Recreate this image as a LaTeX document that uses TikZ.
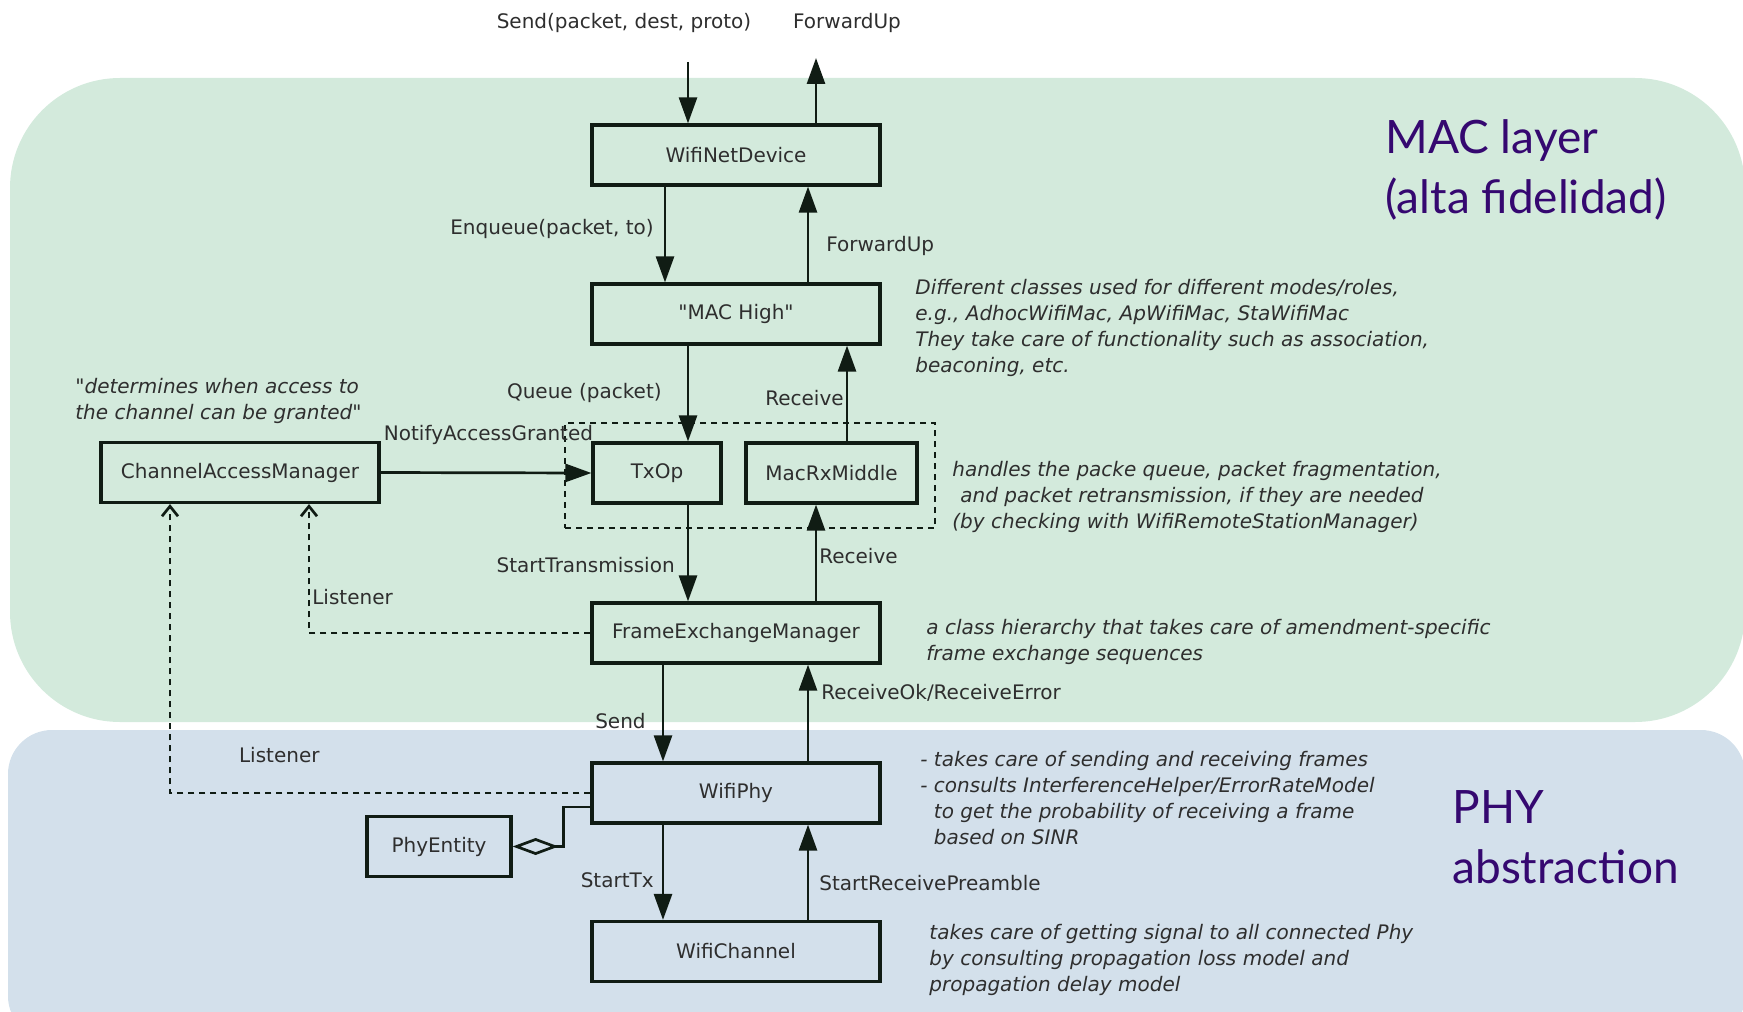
\documentclass[tikz,border=0pt]{standalone}
\usepackage{fontspec}
\setmainfont{DejaVu Sans}
\newfontfamily\titlefont{Lato}
\usetikzlibrary{positioning,arrows.meta}
\definecolor{MacGreen}{HTML}{D3EADC}
\definecolor{PhyBlue}{HTML}{D3E0EB}
\definecolor{LayerPurple}{HTML}{350870}
\definecolor{InkDark}{HTML}{101C14}
\definecolor{TextGray}{HTML}{2E2E2E}

\begin{document}
\begin{tikzpicture}[
        x=0.5pt, y=-0.5pt,
        box/.style={rectangle, draw=InkDark, line width=1.6pt, minimum width=144pt, minimum height=30pt, inner sep=0pt, text=TextGray, font=\fontsize{10}{12}\selectfont},
        flow/.style={draw=InkDark, line width=1.35pt, -{Triangle[length=13pt,width=9pt]}},
        listen/.style={draw=InkDark, line width=1.35pt, dash pattern=on 3pt off 2.5pt, -{Straight Barb[length=5pt,width=8pt]}},
        lbl/.style={text=TextGray, inner sep=1pt, font=\fontsize{10}{12}\selectfont},
        note/.style={text=TextGray, anchor=north west, align=left, inner sep=1pt, font=\fontsize{10}{13}\selectfont\itshape},
        layer/.style={text=LayerPurple, anchor=north west, align=left, inner sep=0pt, font=\titlefont\fontsize{23}{30}\selectfont}
    ]
        \useasboundingbox (0,0) rectangle (1743,1011);
        % the two layers
        \fill[MacGreen, rounded corners=55pt] (10,78) rectangle (1745,722);
        \fill[PhyBlue, rounded corners=22pt] (8,730) rectangle (1745,1040);
        \node[layer] (maclbl) at (1385,119) {MAC layer\\(alta fidelidad)};
        \node[layer] (phylbl) at (1452,790) {PHY\\abstraction};

        \node[box] (dev) at (736,155) {WifiNetDevice};
        \node[box] (mach) at (736,314) {\textquotedbl MAC High\textquotedbl};
        \node[box, minimum width=64pt] (txop) at (657,473) {TxOp};
        \node[box, minimum width=85.5pt] (rx) at (831.5,473) {MacRxMiddle};
        \node[box, minimum width=139pt] (cam) at (240,472.5) {ChannelAccessManager};
        \node[box] (fem) at (736,633) {FrameExchangeManager};
        \node[box] (phy) at (736,793) {WifiPhy};
        \node[box, minimum width=72pt] (pe) at (439,846.5) {PhyEntity};
        \node[box] (chan) at (736,951.5) {WifiChannel};
        \node[draw=InkDark, line width=1.35pt, dash pattern=on 3pt off 2.5pt, minimum width=185pt, minimum height=52.5pt] (mid) at (750,475.5) {};

        % upper interface
        \coordinate (sendin) at (688,62);
        \coordinate (fwdout) at (816,58);
        \node[lbl] (sendlbl) at (624,23) {Send(packet, dest, proto)};
        \node[lbl] (fwdlbl) at (847,23) {ForwardUp};
        \draw[flow] (sendin) -- (sendin |- dev.north);
        \draw[flow] (dev.north -| fwdout) -- (fwdout);

        \draw[flow] ([xshift=-35.5pt]dev.south) -- node[lbl, left=4pt, pos=0.44] {Enqueue(packet, to)} ([xshift=-35.5pt]mach.north);
        \draw[flow] ([xshift=36pt]mach.north) -- node[lbl, right=7.5pt, pos=0.38] {ForwardUp} ([xshift=36pt]dev.south);
        \draw[flow] ([xshift=-24pt]mach.south) -- node[lbl, left=11.5pt, pos=0.49] {Queue (packet)} ([xshift=15.5pt]txop.north);
        \draw[flow] ([xshift=7.75pt]rx.north) -- node[lbl, left=0pt, pos=0.45] {Receive} ([xshift=55.5pt]mach.south);
        \draw[flow] (cam.east) -- node[lbl, anchor=west, pos=0, yshift=19pt] {NotifyAccessGranted} (txop.west);
        \draw[flow] ([xshift=15.5pt]txop.south) -- node[lbl, left=5pt, pos=0.62] {StartTransmission} ([xshift=-24pt]fem.north);
        \draw[flow] ([xshift=40pt]fem.north) -- node[lbl, right=0pt, pos=0.47] {Receive} ([xshift=-7.75pt]rx.south);
        \draw[listen] (fem.west) -| node[lbl, anchor=west, pos=0.64] {Listener} ([xshift=34.5pt]cam.south);
        \draw[listen] (phy.west) -| node[lbl, pos=0.37, yshift=19pt] {Listener} ([xshift=-35pt]cam.south);
        \draw[flow] ([xshift=-36.5pt]fem.south) -- node[lbl, left=7pt, pos=0.58] {Send} ([xshift=-36.5pt]phy.north);
        \draw[flow] ([xshift=36pt]phy.north) -- node[lbl, right=5pt, pos=0.71] {ReceiveOk/ReceiveError} ([xshift=36pt]fem.south);
        \draw[flow] ([xshift=-36.5pt]phy.south) -- node[lbl, left=3pt, pos=0.58] {StartTx} ([xshift=-36.5pt]chan.north);
        \draw[flow] ([xshift=36pt]chan.north) -- node[lbl, right=4pt, pos=0.39] {StartReceivePreamble} ([xshift=36pt]phy.south);
        \draw[draw=InkDark, line width=1.35pt, {Diamond[open,length=23pt,width=8.5pt]}-] (pe.east) -- ++(51,0) |- ([yshift=-7pt]phy.west);

        % notes
        \node[note] (camnote) at (73,376) {\textquotedbl determines when access to\\ the channel can be granted\textquotedbl};
        \node[note] (machnote) at (913,277) {Different classes used for different modes/roles,\\ e.g., AdhocWifiMac, ApWifiMac, StaWifiMac\\ They take care of functionality such as association,\\ beaconing, etc.};
        \node[note] (midnote) at (950,459) {handles the packe queue, packet fragmentation,\\ \hspace*{4pt}and packet retransmission, if they are needed\\ (by checking with WifiRemoteStationManager)};
        \node[note] (femnote) at (924,617) {a class hierarchy that takes care of amendment-specific\\ frame exchange sequences};
        \node[note] (phynote) at (918,749) {- takes care of sending and receiving frames\\ - consults InterferenceHelper/ErrorRateModel\\ \phantom{- }to get the probability of receiving a frame\\ \phantom{- }based on SINR};
        \node[note] (channote) at (927,922) {takes care of getting signal to all connected Phy\\ by consulting propagation loss model and\\ propagation delay model};
    \end{tikzpicture}
\end{document}
